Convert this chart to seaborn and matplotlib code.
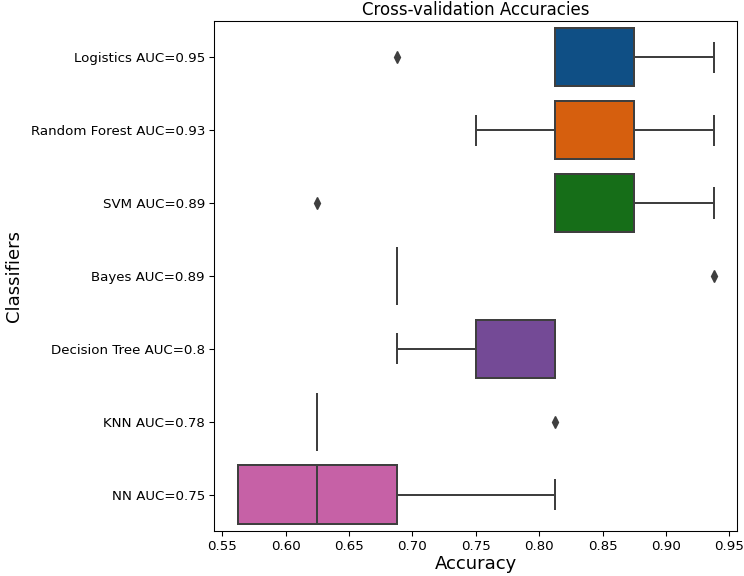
import pandas as pd
import seaborn as sns
import matplotlib
import matplotlib.pyplot as plt

matplotlib.use('Agg')

# Classifier labels (with AUC) and their cross-validation fold accuracies
classifiers = [
    "Logistics AUC=0.95",
    "Random Forest AUC=0.93",
    "SVM AUC=0.89",
    "Bayes AUC=0.89",
    "Decision Tree AUC=0.8",
    "KNN AUC=0.78",
    "NN AUC=0.75",
]
logistics = [0.6875, 0.8125, 0.8125, 0.8125, 0.875, 0.875, 0.875, 0.875, 0.875, 0.9375]
random_forest = [0.75, 0.8125, 0.8125, 0.8125, 0.875, 0.875, 0.875, 0.875, 0.875, 0.9375]
svm = [0.625, 0.8125, 0.8125, 0.8125, 0.875, 0.875, 0.875, 0.875, 0.875, 0.9375]
bayes = [0.6875, 0.6875, 0.6875, 0.6875, 0.6875, 0.6875, 0.6875, 0.6875, 0.6875, 0.9375]
decision_tree = [0.6875, 0.75, 0.75, 0.75, 0.8125, 0.8125, 0.8125, 0.8125, 0.8125, 0.8125]
knn = [0.625, 0.625, 0.625, 0.625, 0.625, 0.625, 0.625, 0.625, 0.625, 0.8125]
nn = [0.5625, 0.5625, 0.5625, 0.5625, 0.625, 0.625, 0.6875, 0.6875, 0.6875, 0.8125]

colors = ["#0f4f85", "#d65f0e", "#166e18", "#a8291f", "#744a96", "#7a4a1e", "#c661a6"]

# long format table for seaborn
scores = [logistics, random_forest, svm, bayes, decision_tree, knn, nn]
rows = []
for name, vals in zip(classifiers, scores):
    for v in vals:
        rows.append({"Classifier": name, "Accuracy": v})
df = pd.DataFrame(rows)

fig = plt.figure(figsize=(7.75, 6), dpi=96)
ax = fig.add_axes([0.288, 0.078, 0.703, 0.886])

sns.boxplot(
    data=df, x="Accuracy", y="Classifier", hue="Classifier",
    order=classifiers, hue_order=classifiers, palette=colors,
    saturation=1, legend=False, linecolor="#3f3f3f", linewidth=1.5,
    flierprops=dict(marker="d", markerfacecolor="#3f3f3f",
                    markeredgecolor="#3f3f3f", markersize=6),
    ax=ax,
)

ax.set_title("Cross-validation Accuracies", fontsize=12.5, pad=4)
ax.set_xlabel("Accuracy", fontsize=13.5, labelpad=1)
ax.set_ylabel("Classifiers", fontsize=13.5, labelpad=6)
ax.tick_params(labelsize=10)

plt.savefig("out.png", dpi=96)
plt.close()
